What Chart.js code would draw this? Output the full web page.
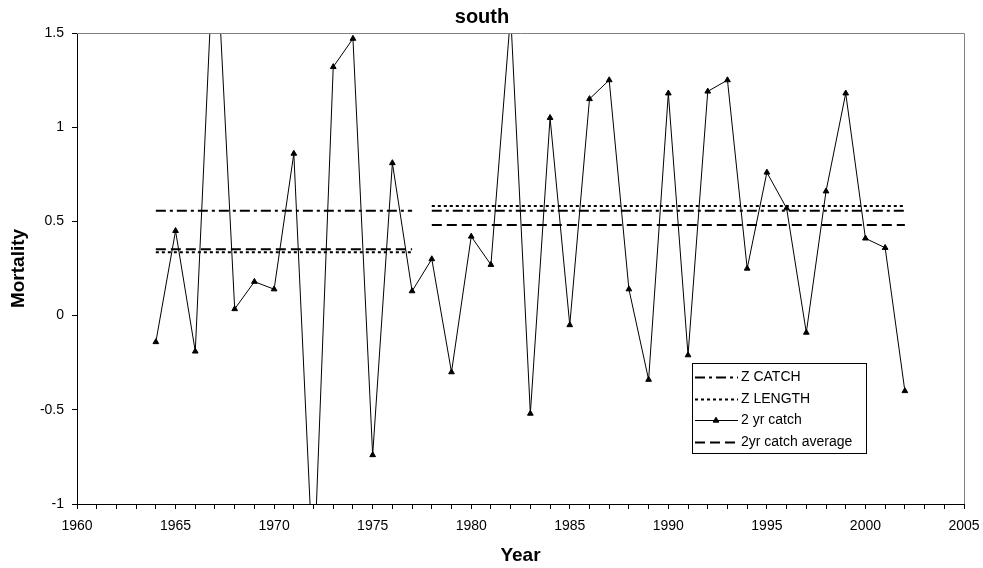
<!DOCTYPE html>
<html>
<head>
<meta charset="utf-8">
<script src="https://cdn.jsdelivr.net/npm/chart.js@4.4.1/dist/chart.umd.min.js"></script>
<style>
  html, body { margin: 0; padding: 0; background: #fff; }
  #wrap { width: 983px; height: 568px; }
</style>
</head>
<body>
<div id="wrap"><canvas id="southChart"></canvas></div>
<script>
// ---------------- data ----------------
const years = [1964, 1965, 1966, 1967, 1968, 1969, 1970, 1971, 1972, 1973,
               1974, 1975, 1976, 1977, 1978, 1979, 1980, 1981, 1982, 1983,
               1984, 1985, 1986, 1987, 1988, 1989, 1990, 1991, 1992, 1993,
               1994, 1995, 1996, 1997, 1998, 1999, 2000, 2001, 2002];
const catch2yr = [-0.14, 0.45, -0.19, 2.1, 0.035, 0.18, 0.14, 0.86, -1.4, 1.32,
                  1.47, -0.74, 0.81, 0.13, 0.30, -0.30, 0.42, 0.27, 1.6, -0.52,
                  1.05, -0.05, 1.15, 1.25, 0.14, -0.34, 1.18, -0.21, 1.19, 1.25,
                  0.25, 0.76, 0.57, -0.09, 0.66, 1.18, 0.41, 0.36, -0.40];

// two periods, one level per period
const periods = [[1964, 1977], [1978, 2002]];
const zCatch = [0.557, 0.557];
const zLength = [0.336, 0.582];
const catchAvg = [0.352, 0.481];

const yTicks = [-1, -0.5, 0, 0.5, 1, 1.5];

const FONT = "'Liberation Sans', Arial, sans-serif";

// build level lines with a break between periods
const levelPoints = (levels) => {
    const pts = [];
    periods.forEach((p, i) => {
        if (i > 0) pts.push({ x: (periods[i - 1][1] + p[0]) / 2, y: null });
        pts.push({ x: p[0], y: levels[i] });
        pts.push({ x: p[1], y: levels[i] });
    });
    return pts;
};

//################# custom legend box inside the plot #################
const boxLegend = {
    id: 'boxLegend',
    afterDatasetsDraw(chart) {
        const ctx = chart.ctx;
        const area = chart.chartArea;
        const w = 174, h = 90;
        const x0 = Math.round(area.right - 98 - w), y0 = Math.round(area.bottom - 51 - h);
        ctx.save();
        ctx.fillStyle = '#fff';
        ctx.fillRect(x0, y0, w, h);
        ctx.strokeStyle = '#000';
        ctx.lineWidth = 1;
        ctx.setLineDash([]);
        ctx.strokeRect(x0 + 0.5, y0 + 0.5, w, h);
        ctx.font = '14px ' + FONT;
        ctx.textBaseline = 'middle';
        chart.data.datasets.forEach((ds, i) => {
            const y = Math.round(y0 + 14 + i * 21.7) + 0.5;
            ctx.beginPath();
            ctx.setLineDash(ds.borderDash || []);
            ctx.lineWidth = ds.borderWidth;
            ctx.strokeStyle = ds.borderColor;
            ctx.moveTo(x0 + 3, y);
            ctx.lineTo(x0 + 46, y);
            ctx.stroke();
            ctx.setLineDash([]);
            if (ds.pointRadius) {
                ctx.fillStyle = '#000';
                Chart.helpers.drawPoint(ctx, { pointStyle: 'triangle', radius: ds.pointRadius, borderWidth: 1 }, x0 + 24, y);
            }
            ctx.fillStyle = '#000';
            ctx.fillText(ds.label, x0 + 49, y);
        });
        ctx.restore();
    },
    afterDraw(chart) {
        // grey frame on top and right of the plot
        const ctx = chart.ctx;
        const a = chart.chartArea;
        ctx.save();
        ctx.strokeStyle = '#808080';
        ctx.lineWidth = 1;
        ctx.beginPath();
        ctx.moveTo(a.left, Math.round(a.top) + 0.5);
        ctx.lineTo(Math.round(a.right) + 0.5, Math.round(a.top) + 0.5);
        ctx.lineTo(Math.round(a.right) + 0.5, a.bottom);
        ctx.stroke();
        ctx.restore();
    }
};

//################# create the chart #################
const southChart = new Chart(document.getElementById('southChart'), {
    type: 'line',
    data: {
        datasets: [
            {
                label: 'Z CATCH',
                data: levelPoints(zCatch),
                borderColor: '#000',
                borderWidth: 2,
                borderDash: [10, 4, 3, 4],
                pointRadius: 0,
                spanGaps: false,
            },
            {
                label: 'Z LENGTH',
                data: levelPoints(zLength),
                borderColor: '#000',
                borderWidth: 2,
                borderDash: [3, 3],
                pointRadius: 0,
                spanGaps: false,
            },
            {
                label: '2 yr catch',
                data: years.map((yr, i) => ({ x: yr, y: catch2yr[i] })),
                borderColor: '#000',
                backgroundColor: '#000',
                borderWidth: 1,
                pointStyle: 'triangle',
                pointRadius: 3.3,
                pointBorderWidth: 1,
                clip: 0,
            },
            {
                label: '2yr catch average',
                data: levelPoints(catchAvg),
                borderColor: '#000',
                borderWidth: 2,
                borderDash: [10, 5],
                pointRadius: 0,
                spanGaps: false,
            },
        ],
    },
    plugins: [boxLegend],
    options: {
        responsive: true,
        maintainAspectRatio: false,
        animation: false,
        layout: { padding: { left: 0, right: 19, top: 0, bottom: 0 } },
        plugins: {
            legend: { display: false },
            tooltip: { enabled: false },
            title: {
                display: true,
                text: 'south',
                color: '#000',
                font: { family: FONT, size: 20, weight: 'bold' },
                padding: { top: 5, bottom: 4 },
            },
        },
        scales: {
            x: {
                type: 'linear',
                min: 1960,
                max: 2005,
                afterFit: (scale) => {
                    scale.height = 64;
                    scale.paddingLeft = 0;
                    scale.paddingRight = 0;
                },
                ticks: {
                    stepSize: 1,
                    autoSkip: false,
                    maxRotation: 0,
                    padding: 9,
                    color: '#000',
                    font: { family: FONT, size: 14 },
                    callback: (v) => (v % 5 === 0 ? String(v) : ''),
                },
                grid: { drawOnChartArea: false, drawTicks: true, tickLength: 5, color: '#000' },
                border: { color: '#000', width: 1 },
                title: {
                    display: true,
                    text: 'Year',
                    color: '#000',
                    font: { family: FONT, size: 19, weight: 'bold' },
                    padding: { top: 4, bottom: 1 },
                },
            },
            y: {
                min: -1,
                max: 1.5,
                afterFit: (scale) => { scale.width = 77; },
                afterBuildTicks: (scale) => { scale.ticks = yTicks.map(v => ({ value: v })); },
                ticks: {
                    padding: 8,
                    color: '#000',
                    font: { family: FONT, size: 14 },
                    callback: (v) => String(v),
                },
                grid: { drawOnChartArea: false, drawTicks: true, tickLength: 5, color: '#000' },
                border: { color: '#000', width: 1 },
                title: {
                    display: true,
                    text: 'Mortality',
                    color: '#000',
                    font: { family: FONT, size: 19, weight: 'bold' },
                    padding: { top: 7, bottom: 4 },
                },
            },
        },
    },
});
</script>
</body>
</html>
